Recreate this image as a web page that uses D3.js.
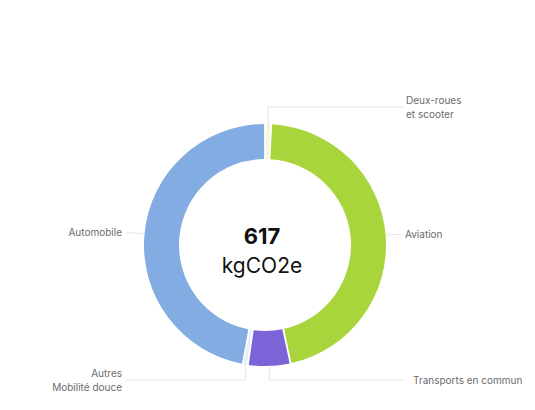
<!DOCTYPE html>
<html><head><meta charset="utf-8">
<script src="https://cdn.jsdelivr.net/npm/d3@7"></script>
<style>body{margin:0;background:#fff}svg{display:block}</style>
</head><body>
<svg id="c" width="535" height="410"></svg>
<script>
const categories = ["Deux-roues\net scooter", "Aviation", "Transports en commun", "Autres\nMobilité douce", "Automobile"];
const values = [4, 284, 34, 3, 292];
const colors = ["#f3f8dc", "#a9d53c", "#7b63d8", "#e6eefa", "#82ace2"];
const totalLabel = ["617", "kgCO2e"];

const svg = d3.select("#c");
const cx = 265, cy = 245, R = 121, r = 86;
const pie = d3.pie().sort(null).value(d => d.v).padAngle(0.012);
const arcs = pie(categories.map((c, i) => ({c, v: values[i], col: colors[i]})));
const arc = d3.arc().innerRadius(r).outerRadius(R);
const g = svg.append("g").attr("transform", `translate(${cx},${cy})`);
g.selectAll("path").data(arcs).join("path").attr("d", arc).attr("fill", d => d.data.col);

const lblColor = "#6b6b6b", lineColor = "#e6e6e6";
function pt(a, rad) { return [Math.sin(a) * rad, -Math.cos(a) * rad]; }
const layouts = [
  {ey: -138, ex: 138, tx: 141, anchor: "start"},
  {ey: null, ex: 136, tx: 140, anchor: "start"},
  {ey: 135, ex: 140, tx: 148, anchor: "start"},
  {ey: 135, ex: -140, tx: -143, anchor: "end"},
  {ey: null, ex: -139, tx: -143, anchor: "end"}
];
arcs.forEach((d, i) => {
  const mid = (d.startAngle + d.endAngle) / 2;
  const p0 = pt(mid, R);
  const L = layouts[i];
  let pts, ty;
  if (L.ey === null) {
    const p1 = pt(mid, R + 10);
    pts = [p0, p1, [L.ex, p1[1]]];
    ty = p1[1];
  } else {
    pts = [p0, [p0[0], L.ey], [L.ex, L.ey]];
    ty = L.ey;
  }
  g.append("path").attr("d", d3.line()(pts)).attr("fill", "none")
    .attr("stroke", lineColor).attr("stroke-width", 1);
  const lines = d.data.c.split("\n");
  const t = g.append("text").attr("x", L.tx).attr("text-anchor", L.anchor)
    .attr("font-family", "Inter, sans-serif").attr("font-size", 10).attr("fill", lblColor);
  lines.forEach((s, k) => {
    t.append("tspan").attr("x", L.tx)
      .attr("y", ty + 3.5 + (k - (lines.length - 1) / 2) * 14).text(s);
  });
});

g.append("text").attr("x", -3).attr("y", -1).attr("text-anchor", "middle")
  .attr("font-family", "Inter, sans-serif").attr("font-weight", 700).attr("font-size", 22)
  .attr("fill", "#111").text(totalLabel[0]);
g.append("text").attr("x", -3).attr("y", 28).attr("text-anchor", "middle")
  .attr("font-family", "Inter, sans-serif").attr("font-size", 21)
  .attr("fill", "#111").text(totalLabel[1]);
</script>
</body></html>
